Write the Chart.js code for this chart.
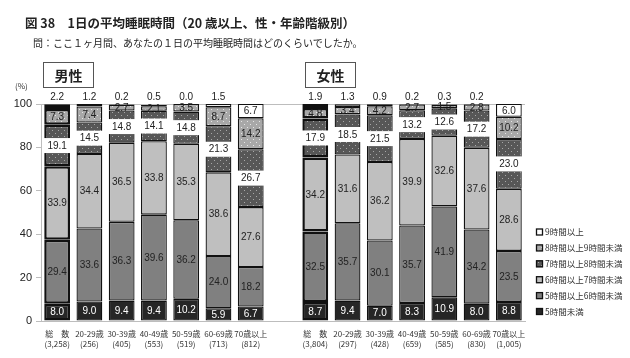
<!DOCTYPE html>
<html><head><meta charset="utf-8">
<script src="https://cdn.jsdelivr.net/npm/chart.js@4.4.1/dist/chart.umd.min.js"></script>
<style>
html,body{margin:0;padding:0;background:#fff;}
#wrap{position:relative;width:630px;height:358px;overflow:hidden;font-family:"Noto Sans CJK JP","Noto Sans",sans-serif;color:#222;}
#c{position:absolute;left:0;top:0;}
.t{position:absolute;white-space:nowrap;}
#title{left:25px;top:13px;font-size:12.5px;font-weight:bold;}
#sub{left:33px;top:35px;font-size:10px;}
#pct{left:15px;top:80px;font-size:8px;color:#333;}
.box{position:absolute;top:62px;width:51px;height:26px;border:1px solid #555;box-sizing:border-box;text-align:center;font-size:14px;line-height:24px;font-weight:bold;}
</style></head>
<body><div id="wrap">
<canvas id="c" width="630" height="358"></canvas>
<div class="t" id="title">図 38　1日の平均睡眠時間（20 歳以上、性・年齢階級別）</div>
<div class="t" id="sub">問：ここ１ヶ月間、あなたの１日の平均睡眠時間はどのくらいでしたか。</div>
<div class="t" id="pct">(%)</div>
<div class="box" style="left:43px;">男性</div>
<div class="box" style="left:305px;">女性</div>
</div>
<script>
// categories (men group, blank spacer, women group)
const ageGroups = ['総　数','20-29歳','30-39歳','40-49歳','50-59歳','60-69歳','70歳以上'];
const menCounts = ['(3,258)','(256)','(405)','(553)','(519)','(713)','(812)'];
const womenCounts = ['(3,804)','(297)','(428)','(659)','(585)','(830)','(1,005)'];
const seriesNames = ['5時間未満','5時間以上6時間未満','6時間以上7時間未満','7時間以上8時間未満','8時間以上9時間未満','9時間以上'];
// men values per series
const menUnder5 = [8.0, 9.0, 9.4, 9.4, 10.2, 5.9, 6.7];
const men5to6   = [29.4, 33.6, 36.3, 39.6, 36.2, 24.0, 18.2];
const men6to7   = [33.9, 34.4, 36.5, 33.8, 35.3, 38.6, 27.6];
const men7to8   = [19.1, 14.5, 14.8, 14.1, 14.8, 21.3, 26.7];
const men8to9   = [7.3, 7.4, 2.7, 2.1, 3.5, 8.7, 14.2];
const men9plus  = [2.2, 1.2, 0.2, 0.5, 0.0, 1.5, 6.7];
// women values per series
const womenUnder5 = [8.7, 9.4, 7.0, 8.3, 10.9, 8.0, 8.8];
const women5to6   = [32.5, 35.7, 30.1, 35.7, 41.9, 34.2, 23.5];
const women6to7   = [34.2, 31.6, 36.2, 39.9, 32.6, 37.6, 28.6];
const women7to8   = [17.9, 18.5, 21.5, 13.2, 12.6, 17.2, 23.0];
const women8to9   = [4.8, 3.4, 4.2, 2.7, 1.5, 2.8, 10.2];
const women9plus  = [1.9, 1.3, 0.9, 0.2, 0.3, 0.2, 6.0];
const yTicks = [0, 20, 40, 60, 80, 100];

const labels = [];
ageGroups.forEach((g,i)=>labels.push([g, menCounts[i]]));
labels.push('');
ageGroups.forEach((g,i)=>labels.push([g, womenCounts[i]]));
const join = (m,w)=>[...m, null, ...w];
const seriesData = [
  join(menUnder5, womenUnder5),
  join(men5to6, women5to6),
  join(men6to7, women6to7),
  join(men7to8, women7to8),
  join(men8to9, women8to9),
  join(men9plus, women9plus)
];

function dotPattern(base, dot){
  const p=document.createElement('canvas'); p.width=6; p.height=6;
  const g=p.getContext('2d');
  g.fillStyle=base; g.fillRect(0,0,6,6);
  g.fillStyle=dot; g.fillRect(1,1,1,1); g.fillRect(4,4,1,1);
  return document.getElementById('c').getContext('2d').createPattern(p,'repeat');
}
const fills = ['#262626','#808080','#bfbfbf', dotPattern('#575757','#a8a8a8'), dotPattern('#a8a8a8','#e6e6e6'), '#ffffff'];

const datasets = seriesData.map((d,i)=>({
  label: seriesNames[i],
  data: d,
  backgroundColor: fills[i],
  borderColor: '#111',
  borderWidth: ctx => (ctx.dataIndex===0 || ctx.dataIndex===8) ? 2.5 : 1.3,
  borderSkipped: false,
  categoryPercentage: 1.0,
  barPercentage: 0.8
}));

const labelPlugin = {
  id:'segLabels',
  afterDatasetsDraw(chart){
    const ctx=chart.ctx;
    ctx.save();
    ctx.font='10px "Liberation Sans", Arial, sans-serif';
    ctx.textAlign='center'; ctx.textBaseline='middle';
    chart.data.datasets.forEach((ds,i)=>{
      const meta=chart.getDatasetMeta(i);
      meta.data.forEach((el,j)=>{
        const v=ds.data[j];
        if(v===null||v===undefined) return;
        let cy=(el.y+el.base)/2;
        if(i===5 && v<5){ cy = chart.chartArea.top-7; }
        if(i===3){
          ctx.fillStyle='#fff';
          ctx.fillRect(el.x-el.width/2-1, cy-7.5, el.width+2, 15);
        }
        ctx.fillStyle = i===0 ? '#fff' : '#222';
        ctx.fillText(v.toFixed(1), el.x, cy+0.5);
      });
    });
    ctx.restore();
  }
};

const legendPlugin = {
  id:'customLegend',
  afterDraw(chart){
    const ctx=chart.ctx;
    ctx.save();
    ctx.font='8.5px "Noto Sans CJK JP", sans-serif';
    ctx.textBaseline='middle'; ctx.textAlign='left';
    const x=536; let y=232;
    for(let i=5;i>=0;i--){
      ctx.fillStyle=fills[i];
      ctx.fillRect(x,y-3.5,7,7);
      ctx.strokeStyle='#111'; ctx.lineWidth=1.3;
      ctx.strokeRect(x+0.5,y-3,6,6);
      ctx.fillStyle='#333';
      ctx.fillText(seriesNames[i], x+9, y);
      y+=15.9;
    }
    ctx.restore();
  }
};

new Chart(document.getElementById('c'), {
  type:'bar',
  data:{labels, datasets},
  options:{
    responsive:false,
    animation:false,
    layout:{padding:{top:104,right:105,left:0,bottom:0}},
    plugins:{legend:{display:false},tooltip:{enabled:false}},
    scales:{
      x:{
        stacked:true,
        grid:{display:false},
        border:{display:true,color:'#bdbdbd',width:1},
        ticks:{font:{size:8,family:'"Noto Sans CJK JP", sans-serif',lineHeight:1.25},color:'#333',padding:0,maxRotation:0,autoSkip:false},
        afterFit(s){ s.height=37; }
      },
      y:{
        stacked:true,
        min:0,max:100,
        afterBuildTicks(s){ s.ticks=yTicks.map(v=>({value:v})); },
        grid:{color:c=> (c.tick && (c.tick.value===100||c.tick.value===0)) ? '#bdbdbd':'rgba(0,0,0,0)', tickColor:'#bdbdbd', tickLength:5, drawTicks:true},
        border:{display:true,color:'#bdbdbd'},
        ticks:{font:{size:11,family:'"Liberation Sans", Arial, sans-serif'},color:'#222',padding:4},
        afterFit(s){ s.width=41; }
      }
    }
  },
  plugins:[labelPlugin, legendPlugin]
});
</script>
</body></html>
